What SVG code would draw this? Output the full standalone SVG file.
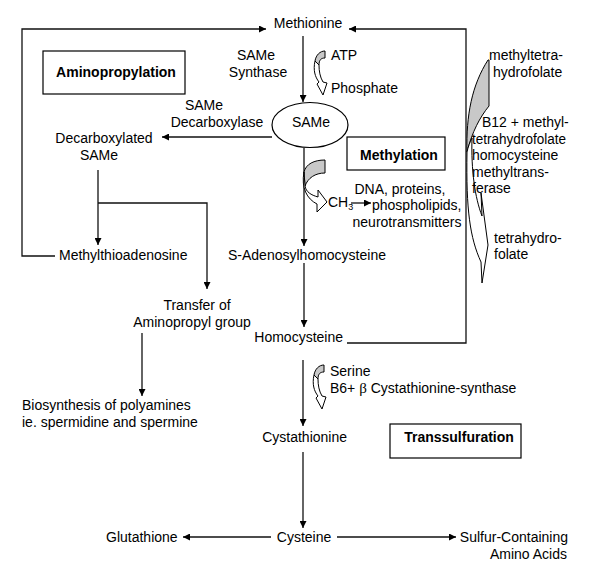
<svg xmlns="http://www.w3.org/2000/svg" width="590" height="568" viewBox="0 0 590 568">
<style>
text{font-family:"Liberation Sans",Arial,sans-serif;font-size:14px;fill:#000}
.m{text-anchor:middle}
.e{text-anchor:end}
.b{font-weight:bold}
.box{fill:#fff;stroke:#000;stroke-width:1.2}
.ln{fill:none;stroke:#111;stroke-width:1.3}
.arr{fill:none;stroke:#111;stroke-width:1.3;marker-end:url(#ah)}
.g{fill:#c8c8c8;stroke:#000;stroke-width:1}
.w{fill:#fff;stroke:#000;stroke-width:1}
</style>
<defs>
<marker id="ah" viewBox="0 0 10 10" refX="10" refY="5" markerWidth="8" markerHeight="7" markerUnits="userSpaceOnUse" orient="auto"><path d="M0,0 L10,5 L0,10 z" fill="#000"/></marker>
</defs>
<rect width="590" height="568" fill="#fff"/>

<g id="connectors">
<path class="arr" d="M55,256 H22 V29 H266"/>
<path class="arr" d="M347,343 H466 V29 H349"/>
<path class="arr" d="M303,36 V102"/>
<path class="arr" d="M272,137 H162"/>
<path class="arr" d="M98,170 V245"/>
<path class="arr" d="M98,203 H207 V289"/>
<path class="arr" d="M142,333 V396"/>
<path class="arr" d="M304,148 V246"/>
<path class="arr" d="M304,263 V327"/>
<path class="arr" d="M303,360 V426"/>
<path class="arr" d="M303,452 V528"/>
<path class="arr" d="M271,537 H183"/>
<path class="arr" d="M337,537 H456"/>
<path class="arr" d="M351,203 H371"/>
</g>

<g id="atp-arrow">
<path class="g" d="M325,51 C320,51 316,55 315,61 L319,65 C319,60 321,58 325,58 Z"/>
<path class="w" d="M315,61 C313,70 315,77 319,82 L317,84 L323,95 L327,83 L323,82 C320,77 319,71 319,65 Z"/>
</g>
<g id="serine-arrow" transform="translate(-1,314)">
<path class="g" d="M325,51 C320,51 316,55 315,61 L319,65 C319,60 321,58 325,58 Z"/>
<path class="w" d="M315,61 C313,70 315,77 319,82 L317,84 L323,95 L327,83 L323,82 C320,77 319,71 319,65 Z"/>
</g>
<g id="methyl-arrow">
<path class="g" d="M325,160 C314,160 306,164 304,172 L305,186 C308,178 315,173 325,173 Z"/>
<path class="w" d="M304,172 C301,188 307,199 317,204 L317,212 L327,202 L318,190 L318,197 C311,195 306,192 305,186 Z"/>
</g>
<g id="folate-arrow">
<path class="g" d="M488,60 L489,60 L489,106 C480,117 472,132 467,152 C466,115 472,85 488,60 Z"/>
<path class="w" d="M472,138 C471,170 475,198 482,216 L481,193 L488,245 L482,283 L481,262 C470,238 466,210 467,152 C468,147 470,142 472,138 Z"/>
</g>

<g id="methionine"><text class="m" x="308" y="28">Methionine</text></g>
<g id="same-synthase"><text class="m" x="256" y="60">SAMe</text><text class="m" x="258" y="77">Synthase</text></g>
<g id="atp"><text x="331" y="60">ATP</text><text x="331" y="93">Phosphate</text></g>
<g id="aminopropylation"><rect class="box" x="43" y="51" width="142" height="43"/><text class="m b" x="116" y="77">Aminopropylation</text></g>
<g id="same-decarboxylase"><text class="m" x="204" y="110">SAMe</text><text class="m" x="217" y="127">Decarboxylase</text></g>
<g id="same"><ellipse cx="310" cy="125" rx="38" ry="22.5" fill="#fff" stroke="#000" stroke-width="1.2"/><text class="m" x="311" y="127">SAMe</text></g>
<g id="decarboxylated-same"><text class="m" x="104" y="143">Decarboxylated</text><text class="m" x="99" y="160">SAMe</text></g>
<g id="methylation"><rect class="box" x="347" y="137" width="98" height="33"/><text class="m b" x="399" y="160">Methylation</text></g>
<g id="targets"><text class="m" x="400" y="194">DNA, proteins,</text><text x="372" y="210">phospholipids,</text><text class="m" x="407" y="227">neurotransmitters</text></g>
<g id="ch3"><text x="328" y="207" font-size="13">CH<tspan font-size="9" dy="3">3</tspan></text></g>
<g id="folate-labels">
<text x="489" y="60">methyltetra-</text>
<text x="493" y="77">hydrofolate</text>
<text x="482" y="127">B12 + methyl-</text>
<text x="472" y="144" textLength="94" lengthAdjust="spacingAndGlyphs">tetrahydrofolate</text>
<text x="472" y="160">homocysteine</text>
<text x="472" y="177">methyltrans-</text>
<text x="472" y="193">ferase</text>
<text x="494" y="243">tetrahydro-</text>
<text x="494" y="259">folate</text>
</g>
<g id="methylthioadenosine"><text x="59" y="260">Methylthioadenosine</text></g>
<g id="s-adenosylhomocysteine"><text x="228" y="260">S-Adenosylhomocysteine</text></g>
<g id="transfer"><text class="m" x="197" y="310">Transfer of</text><text class="m" x="192" y="327">Aminopropyl group</text></g>
<g id="homocysteine"><text class="e" x="343" y="342">Homocysteine</text></g>
<g id="serine"><text x="330" y="376">Serine</text><text x="330" y="393">B6+ <tspan font-family="Liberation Serif, serif" font-size="15">β</tspan> Cystathionine-synthase</text></g>
<g id="biosynthesis"><text x="22" y="410">Biosynthesis of polyamines</text><text x="22" y="427">ie. spermidine and spermine</text></g>
<g id="cystathionine"><text class="e" x="347" y="442">Cystathionine</text></g>
<g id="transsulfuration"><rect class="box" x="390" y="424" width="131" height="34"/><text class="m b" x="459" y="442">Transsulfuration</text></g>
<g id="glutathione"><text x="106" y="542">Glutathione</text></g>
<g id="cysteine"><text class="m" x="304" y="542">Cysteine</text></g>
<g id="sulfur"><text class="e" x="568" y="542">Sulfur-Containing</text><text class="e" x="567" y="559">Amino Acids</text></g>
</svg>
